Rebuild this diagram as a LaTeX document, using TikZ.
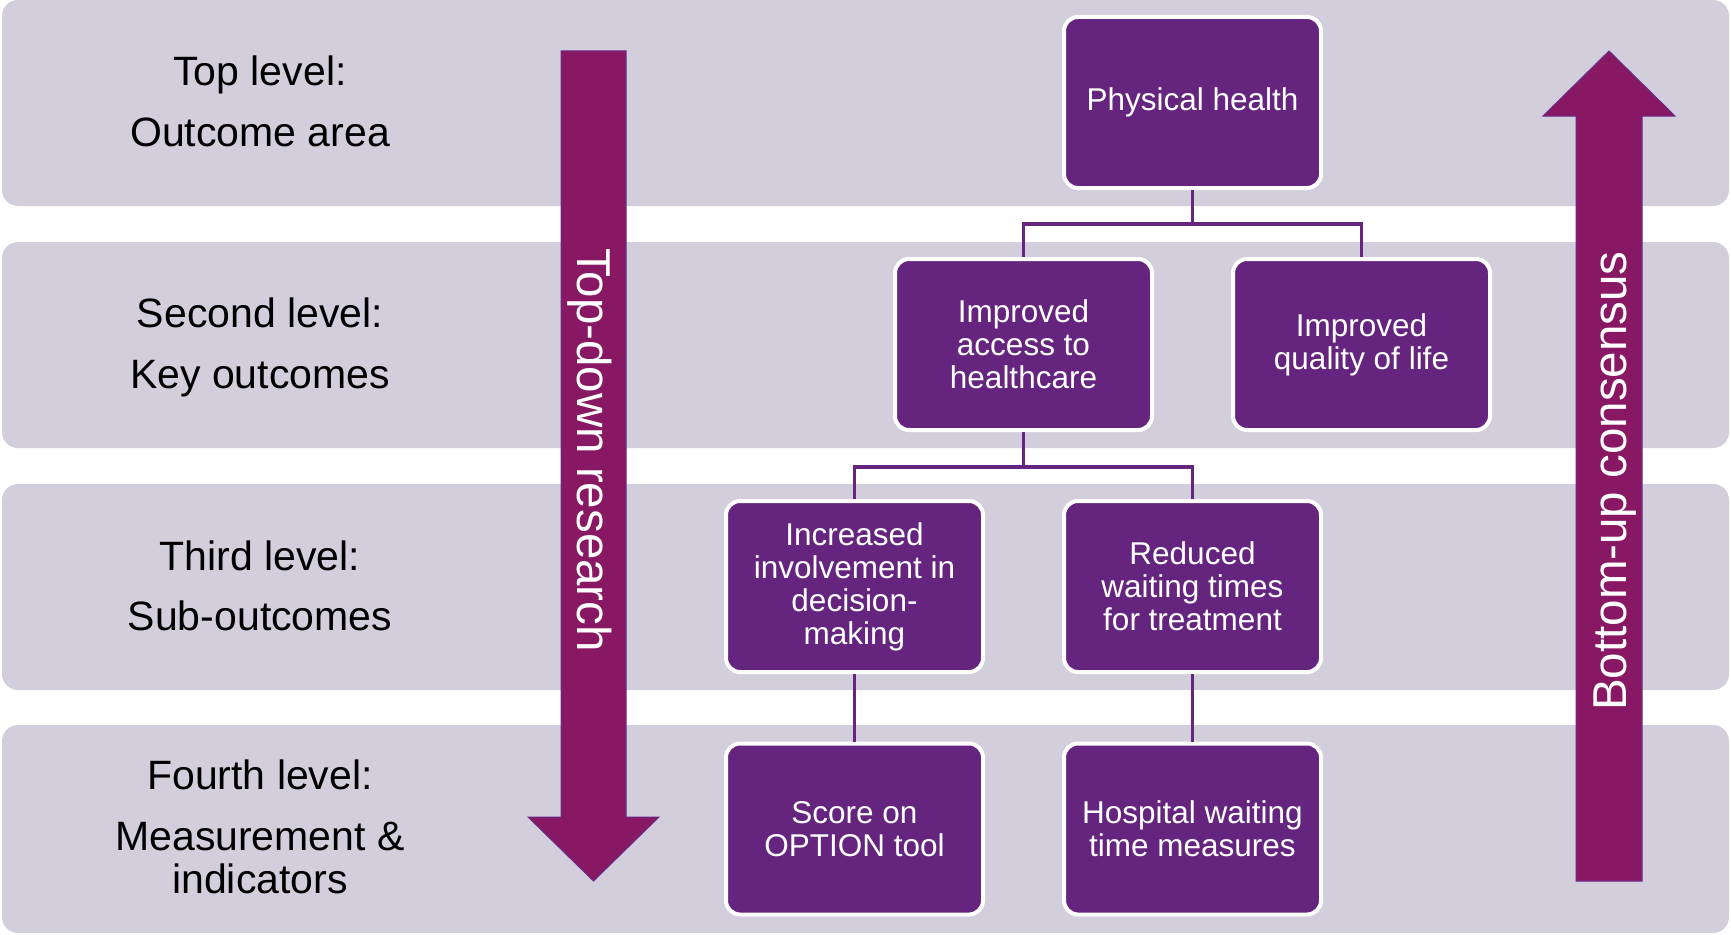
\documentclass[tikz,border=0pt]{standalone}
\usepackage{fontspec}
\setmainfont{Liberation Sans}
\definecolor{bandcol}{RGB}{211,206,220}
\definecolor{boxfill}{RGB}{101,37,127}
\definecolor{arrowfill}{RGB}{137,24,100}
\definecolor{arrowedge}{RGB}{104,44,140}
\begin{document}
\begin{tikzpicture}[x=1pt,y=-1pt,
  bandbox/.style={fill=bandcol, rounded corners=16pt},
  levelbox/.style={draw=white, line width=4pt, fill=boxfill, rounded corners=14pt,
    minimum width=257pt, minimum height=171pt, text=white, align=center,
    font=\fontsize{31.5}{33}\selectfont, inner sep=0pt},
  lab/.style={font=\fontsize{41}{48}\selectfont, text=black, inner sep=0pt, anchor=base},
  link/.style={draw=boxfill, line width=3.5pt},
  bigarrow/.style={fill=arrowfill, draw=arrowedge, line width=1pt},
  arrowtext/.style={text=white, font=\fontsize{47.5}{50}\selectfont, inner sep=0pt, anchor=base}]
\useasboundingbox (0,0) rectangle (1731,934);
% bands
\fill[bandbox] (2,0) rectangle (1729,206);
\fill[bandbox] (2,242) rectangle (1729,448);
\fill[bandbox] (2,484) rectangle (1729,690);
\fill[bandbox] (2,725) rectangle (1729,933);
% left labels
\node[lab] (l1a) at (260,85) {Top level:};
\node[lab] (l1b) at (260,146) {Outcome area};
\node[lab] (l2a) at (260,327) {Second level:};
\node[lab] (l2b) at (260,388) {Key outcomes};
\node[lab] (l3a) at (260,570) {Third level:};
\node[lab] (l3b) at (260,630) {Sub-outcomes};
\node[lab] (l4a) at (260,789) {Fourth level:};
\node[lab] (l4b) at (260,850) {Measurement \&};
\node[lab] (l4c) at (260,893) {indicators};
% arrows
\draw[bigarrow] (561,51) -- (626,51) -- (626,817) -- (659,817) -- (593.5,881) -- (528,817) -- (561,817) -- cycle;
\node[arrowtext, rotate=-90] (tdr) at (577,450) {Top-down research};
\draw[bigarrow] (1576,881) -- (1642,881) -- (1642,116) -- (1675,116) -- (1609,51) -- (1543,116) -- (1576,116) -- cycle;
\node[arrowtext, rotate=90] (buc) at (1626,481) {Bottom-up consensus};
% boxes
\node[levelbox] (ph) at (1192.5,102.5) {Physical health};
\node[levelbox] (acc) at (1023.5,344.5) {Improved\\access to\\healthcare};
\node[levelbox] (qol) at (1361.5,344.5) {Improved\\quality of life};
\node[levelbox] (inv) at (854.5,586.5) {Increased\\involvement in\\decision-\\making};
\node[levelbox] (red) at (1192.5,586.5) {Reduced\\waiting times\\for treatment};
\node[levelbox] (opt) at (854.5,829) {Score on\\OPTION tool};
\node[levelbox] (hos) at (1192.5,829) {Hospital waiting\\time measures};
% connectors
\draw[link] (ph.south) -- ++(0,34) coordinate (j1);
\draw[link] (acc.north) |- (j1) -| (qol.north);
\draw[link] (acc.south) -- ++(0,35) coordinate (j2);
\draw[link] (inv.north) |- (j2) -| (red.north);
\draw[link] (inv.south) -- (opt.north);
\draw[link] (red.south) -- (hos.north);
\end{tikzpicture}
\end{document}
